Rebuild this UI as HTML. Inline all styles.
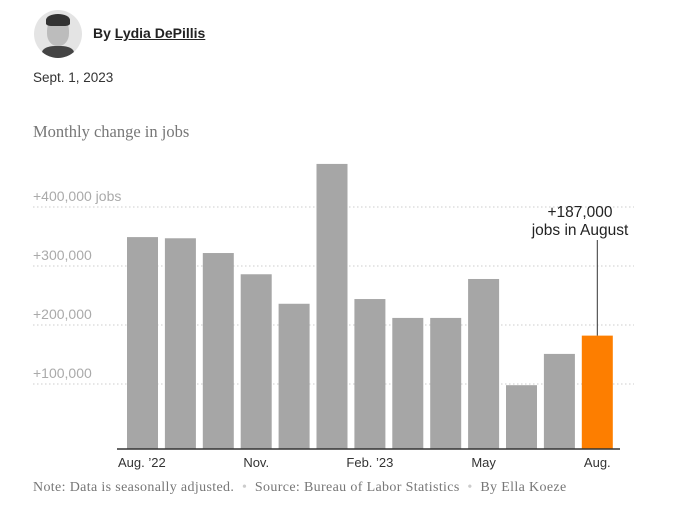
<!DOCTYPE html>
<html><head><meta charset="utf-8"><style>
body{margin:0;width:678px;height:507px;background:#fff;overflow:hidden;font-family:"Liberation Sans",sans-serif;position:relative}
.abs{position:absolute}
</style></head><body>
<div class="abs" style="left:34px;top:10px;width:48px;height:48px;border-radius:50%;background:#e4e4e4;overflow:hidden">
<div style="position:absolute;left:13px;top:8px;width:22px;height:28px;border-radius:45%;background:#bcbcbc"></div>
<div style="position:absolute;left:12px;top:4px;width:24px;height:12px;border-radius:50% 50% 20% 20%;background:#333"></div>
<div style="position:absolute;left:8px;top:36px;width:32px;height:16px;border-radius:40% 40% 0 0;background:#444"></div>
</div>
<div class="abs" style="left:93px;top:25px;font-size:14px;font-weight:bold;color:#222">By <a style="color:#222;text-decoration:underline">Lydia DePillis</a></div>
<div class="abs" style="left:33px;top:70px;font-size:13.5px;color:#333">Sept. 1, 2023</div>
<div class="abs" style="left:33px;top:122px;font-family:'Liberation Serif',serif;font-size:16.5px;color:#777">Monthly change in jobs</div>
<svg id="chart" class="abs" style="left:0;top:0" width="678" height="507"></svg>
<div class="abs" style="left:33px;top:480px;font-family:'Liberation Serif',serif;font-size:14px;letter-spacing:0.35px;color:#777;white-space:nowrap">Note: Data is seasonally adjusted. &nbsp;<span style="color:#ccc">•</span>&nbsp; Source: Bureau of Labor Statistics &nbsp;<span style="color:#ccc">•</span>&nbsp; By Ella Koeze</div>
<script>
const months=["Aug22","Sep22","Oct22","Nov22","Dec22","Jan23","Feb23","Mar23","Apr23","May23","Jun23","Jul23","Aug23"];
const values=[349,347,322,286,236,473,244,212,212,278,98,151,182];
const ticks=[100,200,300,400];
const tickLabels=["+100,000","+200,000","+300,000","+400,000 jobs"];
const xLabelIdx=[0,3,6,9,12];
const xLabels=["Aug. ’22","Nov.","Feb. ’23","May","Aug."];
const NS="http://www.w3.org/2000/svg",svg=document.getElementById('chart');
const y=v=>443-v*0.59, x=i=>127+i*37.9, bw=31, base=449;
function mk(t,a){const e=document.createElementNS(NS,t);for(const k in a)e.setAttribute(k,a[k]);svg.appendChild(e);return e;}
ticks.forEach((t,i)=>{
 const l=mk('line',{x1:33,x2:634,y1:y(t),y2:y(t),stroke:'#ccc','stroke-dasharray':'1.5 2.5'});
 
 
 const tx=mk('text',{x:33,y:y(t)-6,'font-size':14,fill:'#aaa','font-family':'Liberation Sans, sans-serif'});
 tx.textContent=tickLabels[i];
 
 
});
values.forEach((v,i)=>{
 const last=i===values.length-1;
 const r=mk('rect',{x:x(i),y:y(v),width:bw,height:base-y(v),fill:last?'#fd7e00':'#a6a6a6'});
 
 
});
const ax=mk('line',{x1:117,x2:620,y1:base,y2:base,stroke:'#333','stroke-width':1.5});


xLabelIdx.forEach((idx,k)=>{
 const t=mk('text',{x:k===0?x(idx)-9:x(idx)+bw/2,y:467,'font-size':13,fill:'#333','text-anchor':k===0?'start':'middle','font-family':'Liberation Sans, sans-serif'});
 t.textContent=xLabels[k];
 
 
});
const li=values.length-1,cx=x(li)+bw/2;
const al=mk('line',{x1:cx,x2:cx,y1:240,y2:y(values[li]),stroke:'#333','stroke-width':1});


[["+187,000",217],["jobs in August",235]].forEach(([s,yy])=>{
 const t=mk('text',{x:580,y:yy,'font-size':15.5,fill:'#222','text-anchor':'middle','font-family':'Liberation Sans, sans-serif'});
 t.textContent=s;
 
 
});
</script>
</body></html>
